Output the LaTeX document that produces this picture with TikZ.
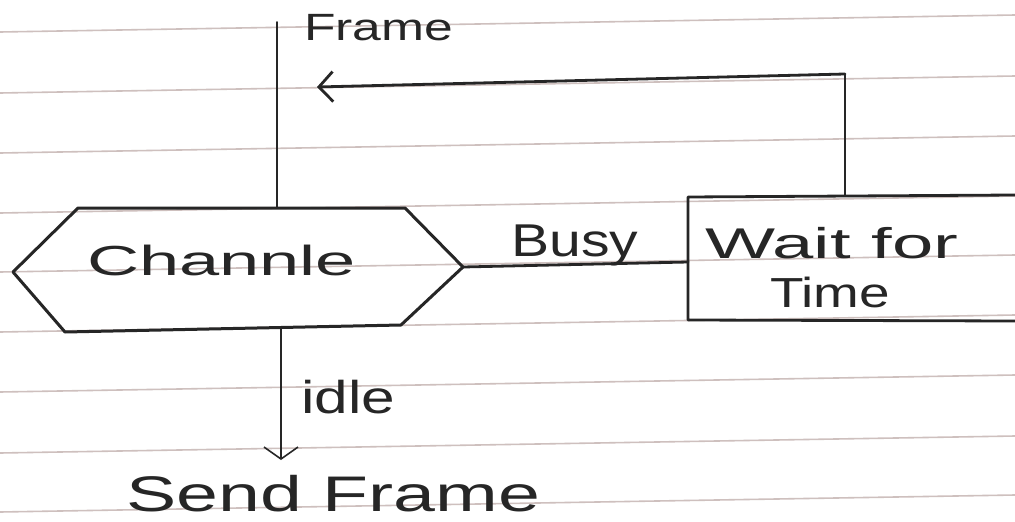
\documentclass[tikz,border=0pt]{standalone}
\usepackage{fontspec}
\setmainfont{Liberation Sans}
\usetikzlibrary{arrows.meta}
\definecolor{ink}{RGB}{38,38,38}
\definecolor{ruleline}{RGB}{206,192,190}
% hand-lettered label: font size, stretched width, text
\newcommand{\hw}[3]{{\fontsize{#1}{#1}\selectfont\resizebox{#2}{\height}{#3}}}

\begin{document}
\begin{tikzpicture}[x=1pt,y=-1pt,
  pen/.style={draw=ink,line width=2.8pt,line cap=round,line join=round},
  thinpen/.style={draw=ink,line width=1.6pt,line cap=round,line join=round},
  lbl/.style={inner sep=0pt,anchor=base west,text=ink},
  ruling/.style={draw=ruleline,line width=1.6pt},
  barbL/.style={-{Straight Barb[length=14pt,width=30pt]}},
  barbD/.style={-{Straight Barb[length=12pt,width=34pt]}}
]
\useasboundingbox (0,0) rectangle (1015,522);
\fill[white] (0,0) rectangle (1015,522);

% ruled notebook paper
\foreach \y in {32,93,153,213,272,332,392,453,512}
  \draw[ruling] (0,\y) -- (1015,{\y-17});

% decision hexagon
\coordinate (hW)  at (13,272);
\coordinate (hNW) at (78,208);
\coordinate (hNE) at (405,208);
\coordinate (hE)  at (463,267);
\coordinate (hSE) at (401,325);
\coordinate (hSW) at (65,332);
\draw[pen,line width=3pt] (hW) -- (hNW) -- (hNE) -- (hE) -- (hSE) -- (hSW) -- cycle;

% open-ended box on the right
\draw[pen] (1015,195) -- (688,197) -- (688,320) -- (1015,321);

% connection points
\coordinate (topEnd)   at (277,22);
\coordinate (hTop)     at (277,208);
\coordinate (hBot)     at (281,329);
\coordinate (sendTop)  at (281,460);
\coordinate (boxW)     at (688,262);
\coordinate (boxTop)   at (845,196);
\coordinate (fbCorner) at (845,74);
\coordinate (fbEnd)    at (317,87);

% labels
\node[lbl] (frameTop) at (304,40)  {\hw{38}{149pt}{Frame}};
\node[lbl] (chan)     at (87,275)  {\hw{42}{269pt}{Channle}};
\node[lbl] (busy)     at (511,256) {\hw{46}{127pt}{Busy}};
\node[lbl] (wait1)    at (705,258) {\hw{43}{253pt}{Wait for}};
\node[lbl] (wait2)    at (770,307) {\hw{42}{120pt}{Time}};
\node[lbl] (idle)     at (301,413) {\hw{46}{94pt}{idle}};
\node[lbl] (send)     at (126,511) {\hw{50}{414pt}{Send Frame}};

% connectors
\draw[thinpen] (topEnd) -- (hTop);
\draw[pen] (hE) -- (boxW);
\draw[thinpen] (boxTop) -- (fbCorner);
\draw[pen,barbL] (fbCorner) -- (fbEnd);
\draw[thinpen,barbD] (hBot) -- (sendTop);
\end{tikzpicture}
\end{document}
